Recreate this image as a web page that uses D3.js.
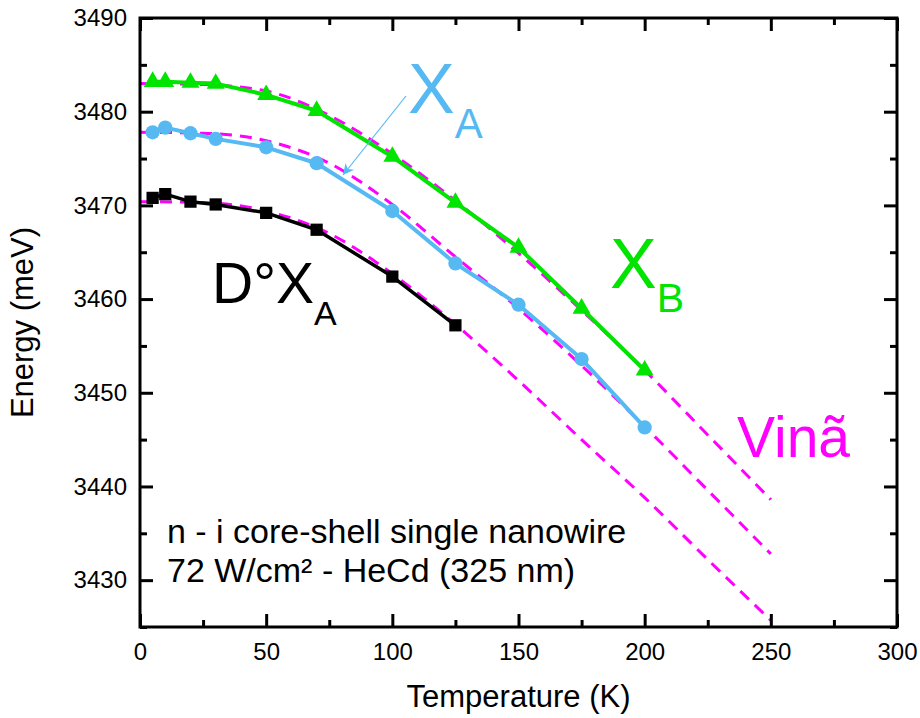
<!DOCTYPE html>
<html><head><meta charset="utf-8">
<script src="https://cdn.jsdelivr.net/npm/d3@7"></script>
<style>body{margin:0;background:#fff}svg{display:block}text{font-family:"Liberation Sans",Arial,sans-serif}</style>
</head><body><svg id="c" width="920" height="718"></svg>
<script>
// ---- data ----
const tempXB  = [5, 10, 20, 30, 50, 70, 100, 125, 150, 175, 200];
const energyXB = [3483.2, 3483.2, 3483.1, 3483.0, 3481.8, 3480.1, 3475.2, 3470.3, 3465.5, 3459.0, 3452.4];
const tempXA  = [5, 10, 20, 30, 50, 70, 100, 125, 150, 175, 200];
const energyXA = [3477.8, 3478.3, 3477.7, 3477.1, 3476.2, 3474.5, 3469.4, 3463.8, 3459.4, 3453.6, 3446.3];
const tempDXA = [5, 10, 20, 30, 50, 70, 100, 125];
const energyDXA = [3470.8, 3471.2, 3470.4, 3470.1, 3469.2, 3467.4, 3462.4, 3457.2];
// Varshni fit curves
const tempFit = [0, 25, 50, 75, 100, 125, 150, 175, 200, 225, 250];
const fitXB  = [3483.0, 3482.9, 3482.2, 3479.6, 3475.5, 3470.5, 3464.9, 3458.8, 3452.4, 3445.5, 3438.6];
const fitXA  = [3477.8, 3477.7, 3476.9, 3474.5, 3470.1, 3464.5, 3459.0, 3452.9, 3446.4, 3439.6, 3432.8];
const fitDXA = [3470.4, 3470.3, 3469.4, 3467.0, 3462.7, 3457.3, 3451.3, 3445.0, 3438.8, 3432.2, 3425.7];
const xTicks = [0, 50, 100, 150, 200, 250, 300];
const yTicks = [3430, 3440, 3450, 3460, 3470, 3480, 3490];

const GREEN = "#00e400", BLUE = "#56b9f2", MAG = "#ff00ff";

const svg = d3.select("#c");
const L = 140, R = 897, T = 18, B = 627;
const x = d3.scaleLinear().domain([0, 300]).range([L, R]);
const y = d3.scaleLinear().domain([3425, 3490]).range([B, T]);

// fits (dashed)
const line = d3.line().x(d => x(d[0])).y(d => y(d[1])).curve(d3.curveMonotoneX);
const plotG = svg.append("g");
[fitXB, fitXA, fitDXA].forEach(f => {
  plotG.append("path").datum(tempFit.map((t, i) => [t, f[i]]))
    .attr("d", line).attr("fill", "none").attr("stroke", MAG)
    .attr("stroke-width", 3).attr("stroke-dasharray", "12,8");
});

const lineStraight = d3.line().x(d => x(d[0])).y(d => y(d[1]));
function series(ts, es, color, shape, size, lw) {
  const pts = ts.map((t, i) => [t, es[i]]);
  plotG.append("path").datum(pts).attr("d", lineStraight).attr("fill", "none")
    .attr("stroke", color).attr("stroke-width", lw).attr("stroke-linejoin", "round");
  plotG.selectAll(null).data(pts).enter().append("path")
    .attr("transform", d => `translate(${x(d[0])},${y(d[1])})`)
    .attr("d", d3.symbol().type(shape).size(size)).attr("fill", color);
}
series(tempXB, energyXB, GREEN, d3.symbolTriangle, 140, 4);
series(tempXA, energyXA, BLUE, d3.symbolCircle, 160, 4);
series(tempDXA, energyDXA, "#000", d3.symbolSquare, 150, 3.5);

// axes
const ax = svg.append("g");
function styleAxis(g) {
  g.select(".domain").remove();
  g.selectAll("line").attr("stroke", "#000").attr("stroke-width", 3);
  g.selectAll("text").attr("font-family", '"Liberation Sans",Arial,sans-serif').attr("fill", "#000");
  g.attr("font-size", 24);
}
const minorX = d3.range(25, 300, 50);
const minorY = d3.range(3425, 3490, 10);
ax.append("g").attr("transform", `translate(0,${B})`)
  .call(d3.axisBottom(x).tickValues(xTicks).tickSize(-13).tickPadding(16).tickFormat(d3.format("d")))
  .call(styleAxis);
ax.append("g").attr("transform", `translate(0,${B})`)
  .call(d3.axisBottom(x).tickValues(minorX).tickSize(-7).tickFormat("")).call(styleAxis);
ax.append("g").attr("transform", `translate(0,${T})`)
  .call(d3.axisTop(x).tickValues(xTicks).tickSize(-13).tickFormat("")).call(styleAxis);
ax.append("g").attr("transform", `translate(0,${T})`)
  .call(d3.axisTop(x).tickValues(minorX).tickSize(-7).tickFormat("")).call(styleAxis);
ax.append("g").attr("transform", `translate(${L},0)`)
  .call(d3.axisLeft(y).tickValues(yTicks).tickSize(-13).tickPadding(13).tickFormat(d3.format("d")))
  .call(styleAxis);
ax.append("g").attr("transform", `translate(${L},0)`)
  .call(d3.axisLeft(y).tickValues(minorY).tickSize(-7).tickFormat("")).call(styleAxis);
ax.append("g").attr("transform", `translate(${R},0)`)
  .call(d3.axisRight(y).tickValues(yTicks).tickSize(-13).tickFormat("")).call(styleAxis);
ax.append("g").attr("transform", `translate(${R},0)`)
  .call(d3.axisRight(y).tickValues(minorY).tickSize(-7).tickFormat("")).call(styleAxis);
svg.append("rect").attr("x", L).attr("y", T).attr("width", R - L).attr("height", B - T)
  .attr("fill", "none").attr("stroke", "#000").attr("stroke-width", 3);

// axis titles
svg.append("text").attr("x", (L + R) / 2).attr("y", 707).attr("text-anchor", "middle")
  .attr("font-size", 31).text("Temperature (K)");
svg.append("text").attr("transform", `translate(33,${(T + B) / 2}) rotate(-90)`)
  .attr("text-anchor", "middle").attr("font-size", 31).text("Energy (meV)");

// labels
function label(px, py, main, sub, color, fs, sfs, subDy) {
  const t = svg.append("text").attr("x", px).attr("y", py).attr("fill", color).attr("font-size", fs);
  t.append("tspan").text(main);
  t.append("tspan").attr("font-size", sfs).attr("dy", subDy).text(sub);
}
label(408, 113, "X", "A", BLUE, 70, 42, 25);
label(610, 288, "X", "B", GREEN, 70, 41, 24);
label(212, 303, "D°X", "A", "#000", 57, 34, 22);
svg.append("text").attr("x", 737).attr("y", 457).attr("fill", MAG).attr("font-size", 57).text("Vinã");

svg.append("text").attr("x", 167).attr("y", 543).attr("font-size", 34).text("n - i core-shell single nanowire");
svg.append("text").attr("x", 167).attr("y", 582).attr("font-size", 34).text("72 W/cm² - HeCd (325 nm)");

// arrow
const defs = svg.append("defs");
defs.append("marker").attr("id", "ah").attr("viewBox", "0 0 10 10").attr("refX", 10).attr("refY", 5)
  .attr("markerWidth", 16).attr("markerHeight", 11).attr("markerUnits", "userSpaceOnUse").attr("orient", "auto")
  .append("path").attr("d", "M0,0 L10,5 L0,10 L3,5 Z").attr("fill", BLUE);
svg.append("line").attr("x1", 406).attr("y1", 96).attr("x2", 343).attr("y2", 175)
  .attr("stroke", BLUE).attr("stroke-width", 1.2).attr("marker-end", "url(#ah)");
</script></body></html>
